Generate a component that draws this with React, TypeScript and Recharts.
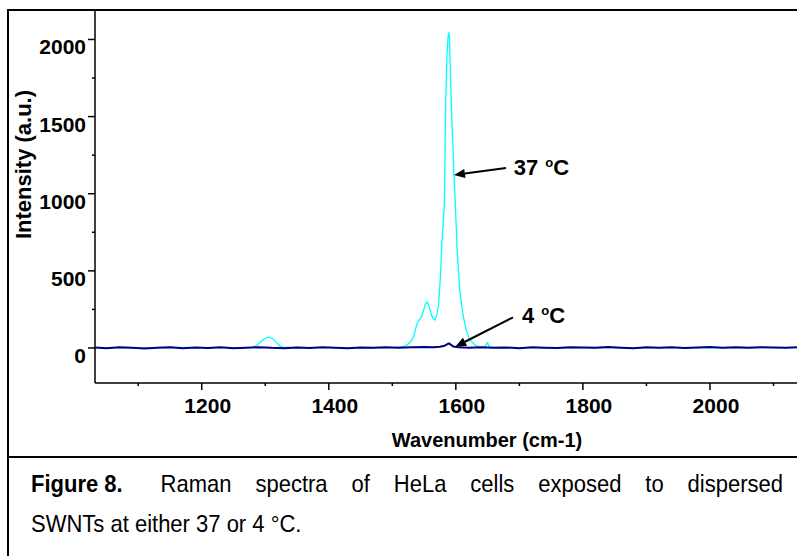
import { LineChart, Line, XAxis, YAxis, ReferenceLine, ReferenceDot } from 'recharts'

// 37 °C spectrum (cyan)
const wn37 = [
  1032, 1090, 1150, 1210, 1260, 1280, 1288, 1294, 1300, 1306, 1312, 1318, 1323, 1330, 1400, 1460, 1505,
  1517, 1524, 1530, 1534, 1537, 1540, 1543, 1546, 1549, 1552, 1555, 1558, 1561, 1564, 1567, 1570, 1573,
  1576, 1578, 1580, 1582, 1584, 1586, 1588, 1589, 1590, 1592, 1594, 1596, 1597, 1599, 1602, 1606, 1609,
  1612, 1617, 1622, 1630, 1638, 1645, 1648, 1650, 1652, 1656, 1700, 1760, 1820, 1880, 1940, 2000, 2060, 2137,
]
const int37 = [
  2, 1, 3, 2, 2, 4, 20, 45, 63, 70, 60, 35, 12, 3, 2, 1, 3,
  8, 22, 45, 80, 130, 170, 185, 205, 240, 285, 300, 270, 220, 190, 182, 215, 290,
  480, 680, 800, 940, 1600, 1900, 2030, 2045, 2010, 1700, 1450, 1250, 1120, 950, 640, 380, 280,
  200, 106, 52, 19, 6, 4, 25, 34, 12, 3, 2, 1, 3, 1, 2, 1, 3, 2,
]

// 4 °C spectrum (navy)
const wn4 = [
  1032, 1050, 1070, 1090, 1110, 1130, 1150, 1170, 1190, 1210, 1230, 1250, 1270, 1290, 1310, 1330, 1350,
  1370, 1390, 1410, 1430, 1450, 1470, 1490, 1510, 1530, 1550, 1565, 1575, 1582, 1586, 1589, 1592, 1596,
  1605, 1620, 1640, 1660, 1680, 1700, 1720, 1740, 1760, 1780, 1800, 1820, 1840, 1860, 1880, 1900, 1920,
  1940, 1960, 1980, 2000, 2020, 2040, 2060, 2080, 2100, 2120, 2137,
]
const int4 = [
  3, -2, 4, 1, -3, 2, 5, -1, 3, 0, 4, -2, 2, 5, 1, -1, 3,
  0, 4, 2, -2, 3, 1, 5, 2, 4, 6, 5, 8, 14, 24, 30, 22, 10,
  4, 2, 5, 1, 3, -1, 4, 2, 0, 5, 3, 1, 6, 2, -1, 4, 2,
  5, 0, 3, 6, 2, 4, 1, 5, 3, 2, 4,
]

const xTicks = [1100, 1200, 1300, 1400, 1500, 1600, 1700, 1800, 1900, 2000, 2100]
const yTicks = [0, 250, 500, 750, 1000, 1250, 1500, 1750, 2000]

const data37 = wn37.map((x, i) => ({ x, y: int37[i] }))
const data4 = wn4.map((x, i) => ({ x, y: int4[i] }))

const FONT = '"Liberation Sans", Arial, sans-serif'

const XTick = (props: any) => {
  const { x, y, payload } = props
  const major = payload.value % 200 === 0
  return (
    <g>
      <line x1={x} x2={x} y1={y} y2={y + (major ? 7 : 3)} stroke="#000" strokeWidth={1.5} />
      {major && (
        <text x={x + 6} y={y + 30} textAnchor="middle" fontSize={21} fontWeight="bold" fontFamily={FONT} fill="#000">
          {payload.value}
        </text>
      )}
    </g>
  )
}

const YTick = (props: any) => {
  const { x, y, payload } = props
  const major = payload.value % 500 === 0
  return (
    <g>
      <line x1={x - (major ? 7 : 3)} x2={x} y1={y} y2={y} stroke="#000" strokeWidth={1.5} />
      {major && (
        <text x={x - 9} y={y + 15} textAnchor="end" fontSize={21} fontWeight="bold" fontFamily={FONT} fill="#000">
          {payload.value}
        </text>
      )}
    </g>
  )
}

const YTitle = (props: any) => {
  const vb = props.viewBox
  const cx = vb.x + 31
  const cy = vb.y + vb.height / 2 - 32
  return (
    <text
      x={cx}
      y={cy}
      transform={`rotate(-90 ${cx} ${cy})`}
      textAnchor="middle"
      fontSize={22}
      fontWeight="bold"
      fontFamily={FONT}
      fill="#000"
    >
      Intensity (a.u.)
    </text>
  )
}

const Arrow = (props: any) => {
  const { x1, y1, x2, y2 } = props
  const a = Math.atan2(y2 - y1, x2 - x1)
  const len = 11
  const w = 4.5
  const bx = x2 - len * Math.cos(a)
  const by = y2 - len * Math.sin(a)
  const px = -Math.sin(a) * w
  const py = Math.cos(a) * w
  return (
    <g>
      <line x1={x1} y1={y1} x2={bx} y2={by} stroke="#000" strokeWidth={2} />
      <polygon points={`${x2},${y2} ${bx + px},${by + py} ${bx - px},${by - py}`} fill="#000" />
    </g>
  )
}

const tempLabel = (big: string) => (props: any) => (
  <text x={props.cx} y={props.cy} fontSize={22} fontWeight="bold" fontFamily={FONT} fill="#000">
    {big}
    <tspan fontSize={13} dx={1} dy={-8}>o</tspan>
    <tspan fontSize={22} dy={8}>C</tspan>
  </text>
)

export default function App() {
  return (
    <div
      style={{
        position: 'absolute',
        left: 0,
        top: 0,
        width: 797,
        height: 556,
        overflow: 'hidden',
        background: '#fff',
        fontFamily: FONT,
      }}
    >
      <div
        style={{
          position: 'absolute',
          left: 7,
          top: 9,
          width: 1000,
          height: 700,
          border: '2px solid #000',
        }}
      />
      <div style={{ position: 'absolute', left: 7, top: 456, width: 1000, height: 2, background: '#000' }} />
      <div style={{ position: 'absolute', left: 0, top: 0 }}>
        <LineChart width={797} height={456} margin={{ top: 10, right: 0, bottom: 0, left: 0 }}>
          <XAxis
            dataKey="x"
            type="number"
            domain={[1032, 2137]}
            allowDataOverflow
            ticks={xTicks}
            interval={0}
            height={73}
            tickSize={0}
            tickMargin={0}
            tickLine={false}
            tick={<XTick />}
            axisLine={{ stroke: '#000', strokeWidth: 1.5 }}
            label={{
              value: 'Wavenumber (cm-1)',
              position: 'insideBottom',
              offset: 9,
              dx: 41,
              style: { fontSize: 20, fontWeight: 'bold', fontFamily: FONT, fill: '#000' },
            }}
          />
          <YAxis
            dataKey="y"
            type="number"
            domain={[-227, 2191]}
            allowDataOverflow
            ticks={yTicks}
            interval={0}
            width={95}
            tickSize={0}
            tickMargin={0}
            tickLine={false}
            tick={<YTick />}
            axisLine={{ stroke: '#000', strokeWidth: 1.5 }}
            label={<YTitle />}
          />
          <Line
            data={data37}
            dataKey="y"
            type="linear"
            stroke="#00FFFF"
            strokeWidth={1.3}
            dot={false}
            isAnimationActive={false}
          />
          <Line
            data={data4}
            dataKey="y"
            type="linear"
            stroke="#000080"
            strokeWidth={2}
            dot={false}
            isAnimationActive={false}
          />
          <ReferenceLine
            segment={[
              { x: 1679, y: 1167 },
              { x: 1597, y: 1122 },
            ]}
            shape={<Arrow />}
          />
          <ReferenceLine
            segment={[
              { x: 1690, y: 199 },
              { x: 1599, y: 8 },
            ]}
            shape={<Arrow />}
          />
          <ReferenceDot x={1691} y={1122} shape={tempLabel('37 ')} />
          <ReferenceDot x={1704} y={164} shape={tempLabel('4 ')} />
        </LineChart>
      </div>
      <div style={{ position: 'absolute', left: 31, top: 464, width: 752, fontSize: 22, lineHeight: '40px', color: '#000' }}>
        <div style={{ textAlign: 'justify', textAlignLast: 'justify', transform: 'scaleY(1.1)' }}>
          <b style={{ display: 'inline-block' }}>Figure 8.</b>
          <span style={{ display: 'inline-block', width: 14 }} /> Raman spectra of HeLa cells exposed to dispersed
        </div>
        <div style={{ transform: 'scaleY(1.1)', transformOrigin: 'left center' }}>SWNTs at either 37 or 4 °C.</div>
      </div>
    </div>
  )
}
